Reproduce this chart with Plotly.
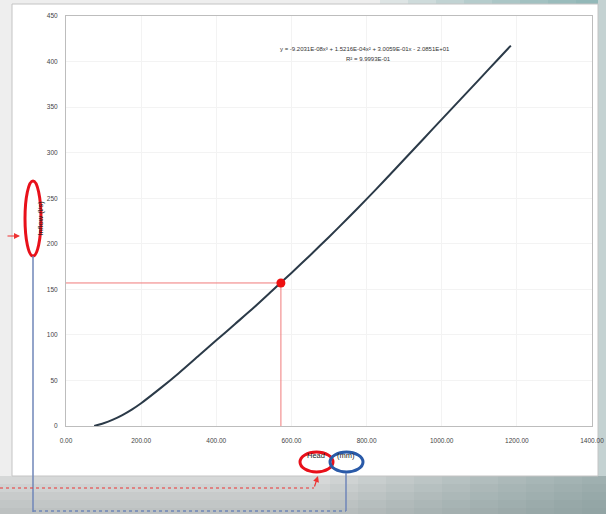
import plotly.graph_objects as go

# Rating curve: flow against head
head_mm = [75, 100, 125, 150, 175, 200, 250, 300, 350, 400, 450, 500, 550, 600,
           650, 700, 750, 800, 850, 900, 950, 1000, 1050, 1100, 1150, 1184]
flow_ls = [0, 3, 7, 12, 18, 25, 41, 58, 76, 94, 112, 130, 149, 168,
           187.5, 207.5, 228, 249, 270.5, 292.5, 314.5, 336.5, 358.5, 380.5, 402.5, 417.5]

# Operating point
op_head = 572
op_flow = 157

x_ticks = [0, 200, 400, 600, 800, 1000, 1200, 1400]
y_ticks = [0, 50, 100, 150, 200, 250, 300, 350, 400, 450]

trend_eq = "y = -9.2031E-08x³ + 1.5216E-04x² + 3.0059E-01x - 2.0851E+01"
trend_r2 = "R² = 9.9993E-01"

x_title_a = "Head"
x_title_b = "(mm)"
y_title = "Inflow (l/s)"

W, H = 606, 514
L, R, T, B = 66, 14, 16, 88
PW, PH = W - L - R, H - T - B


def fx(px):
    return (px - L) / PW


def fy(py):
    return (H - B - py) / PH


fig = go.Figure()

fig.add_trace(go.Scatter(
    x=head_mm, y=flow_ls, mode="lines",
    line=dict(color="#2b3a48", width=2, shape="spline", smoothing=0.6),
    hoverinfo="skip", showlegend=False))

# guide lines to the operating point
fig.add_trace(go.Scatter(
    x=[0, op_head, op_head], y=[op_flow, op_flow, 0], mode="lines",
    line=dict(color="#f07a7a", width=1), showlegend=False, hoverinfo="skip"))
fig.add_trace(go.Scatter(
    x=[op_head], y=[op_flow], mode="markers",
    marker=dict(color="#ee1111", size=9), showlegend=False))

shapes = []
# page backdrop: grey band under the card, teal tint to the right
band = ["#d6d8d8", "#cfd2d2", "#c8cbcb", "#c2c6c6", "#bdc1c1"]
for i, c in enumerate(band):
    shapes.append(dict(type="rect", xref="paper", yref="paper", layer="below",
                       x0=fx(0), x1=fx(W), y0=fy(H), y1=fy(476 + i * 8),
                       fillcolor=c, line_width=0))
for i in range(10):
    shapes.append(dict(type="rect", xref="paper", yref="paper", layer="below",
                       x0=fx(330 + i * 28), x1=fx(W), y0=fy(H), y1=fy(476),
                       fillcolor="#5f8f8f", opacity=0.06, line_width=0))
for i in range(8):
    shapes.append(dict(type="rect", xref="paper", yref="paper", layer="below",
                       x0=fx(380 + i * 28), x1=fx(W), y0=fy(6), y1=fy(0),
                       fillcolor="#5f9f9f", opacity=0.12, line_width=0))
shapes.append(dict(type="rect", xref="paper", yref="paper", layer="below",
                   x0=fx(598), x1=fx(W), y0=fy(476), y1=fy(0),
                   fillcolor="#c4d2d2", line_width=0))
# chart card
shapes.append(dict(type="rect", xref="paper", yref="paper", layer="below",
                   x0=fx(12), x1=fx(598), y0=fy(476), y1=fy(4),
                   fillcolor="white", line=dict(color="#c4c4c4", width=1)))

# callout ellipses
shapes.append(dict(type="circle", xref="paper", yref="paper",
                   x0=fx(25), x1=fx(41), y0=fy(256), y1=fy(181),
                   line=dict(color="#e8101a", width=3)))
shapes.append(dict(type="circle", xref="paper", yref="paper",
                   x0=fx(300), x1=fx(333), y0=fy(472), y1=fy(452),
                   line=dict(color="#e8101a", width=3)))
shapes.append(dict(type="circle", xref="paper", yref="paper",
                   x0=fx(330), x1=fx(363), y0=fy(472), y1=fy(452),
                   line=dict(color="#2a5aa8", width=3)))

# connector lines
shapes.append(dict(type="line", xref="paper", yref="paper",
                   x0=fx(33), x1=fx(33), y0=fy(256), y1=fy(512),
                   line=dict(color="#6f86b8", width=1.5)))
shapes.append(dict(type="line", xref="paper", yref="paper",
                   x0=fx(33), x1=fx(346), y0=fy(511), y1=fy(511),
                   line=dict(color="#6f86b8", width=1.5, dash="dot")))
shapes.append(dict(type="line", xref="paper", yref="paper",
                   x0=fx(346), x1=fx(346), y0=fy(511), y1=fy(473),
                   line=dict(color="#6f86b8", width=1.5)))
shapes.append(dict(type="line", xref="paper", yref="paper",
                   x0=fx(0), x1=fx(314), y0=fy(488), y1=fy(488),
                   line=dict(color="#ee3333", width=1.2, dash="dot")))

annotations = [
    dict(xref="paper", yref="paper", x=fx(365), y=fy(44), text=trend_eq,
         showarrow=False, font=dict(size=6, color="#333333")),
    dict(xref="paper", yref="paper", x=fx(368), y=fy(54), text=trend_r2,
         showarrow=False, font=dict(size=6, color="#333333")),
    dict(xref="paper", yref="paper", x=fx(33), y=fy(218), text=y_title,
         textangle=-90, showarrow=False, font=dict(size=7.5, color="#222222")),
    dict(xref="paper", yref="paper", x=fx(316), y=fy(462), text=x_title_a,
         showarrow=False, font=dict(size=7.5, color="#222222")),
    dict(xref="paper", yref="paper", x=fx(346), y=fy(462), text=x_title_b,
         showarrow=False, font=dict(size=7.5, color="#222222")),
    # red pointer arrows
    dict(xref="paper", yref="paper", x=fx(20), y=fy(236), ax=-14, ay=0,
         text="", showarrow=True, arrowhead=2, arrowsize=1, arrowwidth=1.2,
         arrowcolor="#ee3333"),
    dict(xref="paper", yref="paper", x=fx(318), y=fy(476), ax=-4, ay=12,
         text="", showarrow=True, arrowhead=2, arrowsize=1, arrowwidth=1.2,
         arrowcolor="#ee3333"),
]

axis_font = dict(size=6.5, color="#444444", family="Liberation Sans")
fig.update_layout(
    width=W, height=H, autosize=False,
    margin=dict(l=L, r=R, t=T, b=B, pad=0),
    paper_bgcolor="#eeeeee", plot_bgcolor="white",
    shapes=shapes, annotations=annotations,
    font=dict(family="Liberation Sans"),
    xaxis=dict(range=[0, 1400], tickvals=x_ticks,
               ticktext=[f"{v:.2f}" for v in x_ticks],
               tickfont=axis_font, showgrid=True, gridcolor="#f3f3f3",
               showline=True, mirror=True, linecolor="#bdbdbd", linewidth=1,
               zeroline=False, ticks="", ticklabelstandoff=8, automargin=False),
    yaxis=dict(range=[0, 450], tickvals=y_ticks, tickfont=axis_font,
               showgrid=True, gridcolor="#f3f3f3",
               showline=True, mirror=True, linecolor="#bdbdbd", linewidth=1,
               zeroline=False, ticks="", ticklabelstandoff=6, automargin=False),
)

fig.write_html("out.html")
